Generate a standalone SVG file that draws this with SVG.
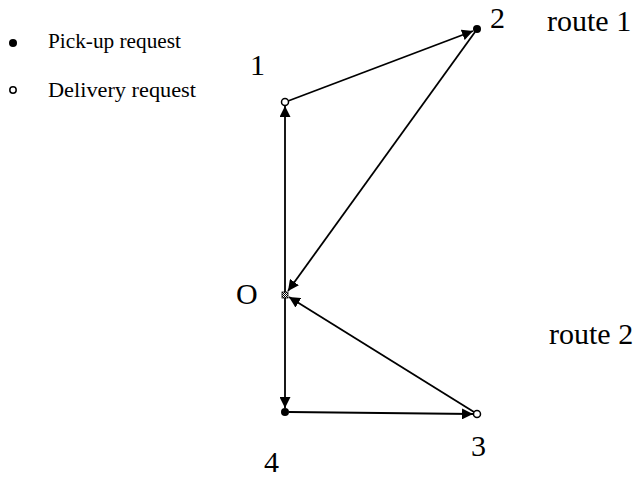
<svg xmlns="http://www.w3.org/2000/svg" width="641" height="478" viewBox="0 0 641 478">
<style>
.lbl{font-family:"Liberation Serif",serif;font-size:30px;fill:#000}
.leg{font-family:"Liberation Serif",serif;font-size:20px;fill:#000}
.edge{stroke:#000;stroke-width:1.8;fill:none;marker-end:url(#ah)}
.pick{fill:#000}
.del{fill:#fff;stroke:#000;stroke-width:1.5}
</style>
<defs>
<marker id="ah" viewBox="0 0 10 10" refX="10" refY="5" markerWidth="11" markerHeight="11" markerUnits="userSpaceOnUse" orient="auto">
<path d="M0,0 L10,5 L0,10 z" fill="#000"/>
</marker>
<pattern id="hatch" width="2" height="2" patternUnits="userSpaceOnUse">
<rect width="2" height="2" fill="#fff"/>
<rect width="1" height="1" fill="#000"/>
<rect x="1" y="1" width="1" height="1" fill="#000"/>
</pattern>
</defs>
<g id="legend">
<circle cx="13" cy="43" r="4" class="pick"/>
<text x="48" y="48" class="leg" textLength="133" lengthAdjust="spacingAndGlyphs">Pick-up request</text>
<circle cx="13" cy="90" r="3.2" class="del"/>
<text x="48" y="97" class="leg" textLength="148" lengthAdjust="spacingAndGlyphs">Delivery request</text>
</g>
<g id="connectors">
<line x1="285" y1="295" x2="285" y2="106" class="edge"/>
<line x1="285" y1="295" x2="285" y2="408" class="edge"/>
<line x1="288" y1="101" x2="473" y2="31" class="edge"/>
<line x1="475" y1="32" x2="288" y2="291" class="edge"/>
<line x1="474" y1="412" x2="289" y2="297" class="edge"/>
<line x1="289" y1="412" x2="473" y2="414" class="edge"/>
</g>
<g id="node-1">
<circle cx="285" cy="102" r="3.5" class="del"/>
<text x="250" y="75" class="lbl">1</text>
</g>
<g id="node-2">
<circle cx="477" cy="29" r="4" class="pick"/>
<text x="490" y="28" class="lbl">2</text>
</g>
<g id="node-O">
<rect x="282" y="292" width="6" height="6" fill="url(#hatch)" stroke="#000" stroke-width="0.8"/>
<text x="236" y="304" class="lbl">O</text>
</g>
<g id="node-4">
<circle cx="285" cy="412" r="4" class="pick"/>
<text x="264" y="472" class="lbl">4</text>
</g>
<g id="node-3">
<circle cx="477" cy="414" r="3.5" class="del"/>
<text x="471" y="456" class="lbl">3</text>
</g>
<g id="routes">
<text x="547" y="31" class="lbl">route 1</text>
<text x="549" y="344" class="lbl">route 2</text>
</g>
</svg>
